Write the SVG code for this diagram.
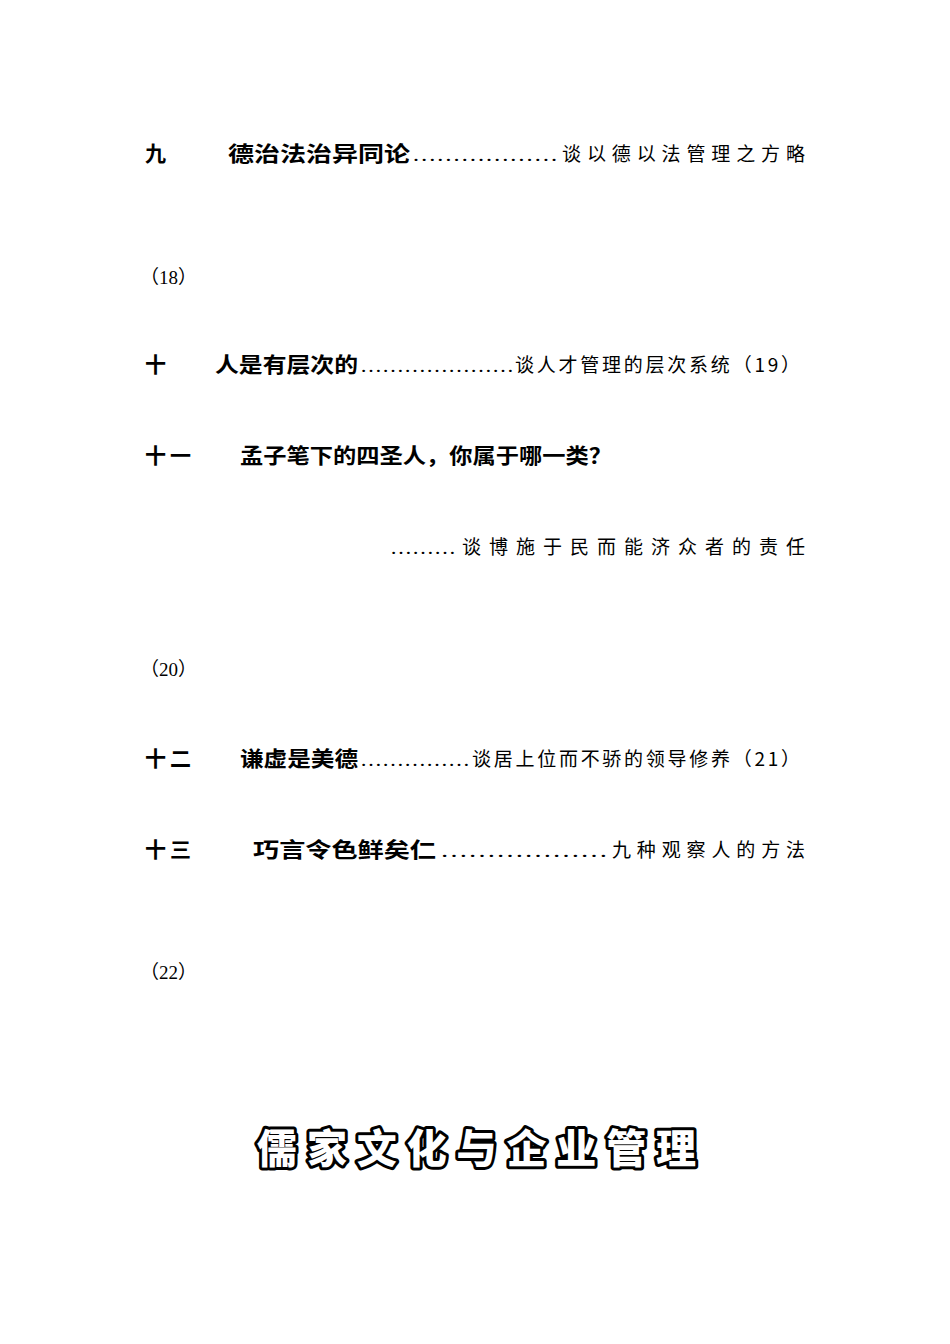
<svg xmlns="http://www.w3.org/2000/svg" width="950" height="1344" viewBox="0 0 950 1344">
<style>
text{font-family:"Noto Sans CJK SC","Liberation Serif",serif;fill:#000}
.n{font-size:21px;font-weight:bold}
.b{font-size:21px;font-weight:bold}
.r{font-size:19px}
.p{font-size:19px;font-family:"Liberation Serif","Noto Sans CJK SC",serif}
.d{font-size:19px;font-family:"Liberation Serif",serif}
.t{font-size:40px;font-weight:900;fill:#fff;stroke:#000;stroke-width:6;paint-order:stroke;stroke-linejoin:round}
</style>
<rect width="950" height="1344" fill="#fff"/>
<g id="item9">
<text class="n" x="145" y="161">九</text>
<text class="b" x="228" y="161" textLength="182" lengthAdjust="spacingAndGlyphs">德治法治异同论</text>
<text class="d" x="412" y="161" textLength="146" lengthAdjust="spacingAndGlyphs">………………</text>
<text class="r" x="562" y="161" textLength="243" lengthAdjust="spacing">谈以德以法管理之方略</text>
<text class="p" x="140" y="284">（18）</text>
</g>
<g id="item10">
<text class="n" x="145" y="372">十</text>
<text class="b" x="215" y="372" textLength="143" lengthAdjust="spacingAndGlyphs">人是有层次的</text>
<text class="d" x="360" y="372" textLength="154" lengthAdjust="spacingAndGlyphs">…………………</text>
<text class="r" x="515" y="372" textLength="285" lengthAdjust="spacing">谈人才管理的层次系统（19）</text>
</g>
<g id="item11">
<text class="n" x="145" y="463" textLength="46" lengthAdjust="spacing">十一</text>
<text class="b" x="240" y="463" textLength="372" lengthAdjust="spacingAndGlyphs">孟子笔下的四圣人，你属于哪一类？</text>
<text class="d" x="390" y="554" textLength="66" lengthAdjust="spacingAndGlyphs">………</text>
<text class="r" x="462" y="554" textLength="343" lengthAdjust="spacing">谈博施于民而能济众者的责任</text>
<text class="p" x="140" y="676">（20）</text>
</g>
<g id="item12">
<text class="n" x="145" y="766" textLength="46" lengthAdjust="spacing">十二</text>
<text class="b" x="240" y="766" textLength="118" lengthAdjust="spacingAndGlyphs">谦虚是美德</text>
<text class="d" x="360" y="766" textLength="110" lengthAdjust="spacingAndGlyphs">……………</text>
<text class="r" x="472" y="766" textLength="328" lengthAdjust="spacing">谈居上位而不骄的领导修养（21）</text>
</g>
<g id="item13">
<text class="n" x="145" y="857" textLength="46" lengthAdjust="spacing">十三</text>
<text class="b" x="253" y="857" textLength="183" lengthAdjust="spacingAndGlyphs">巧言令色鲜矣仁</text>
<text class="d" x="440" y="857" textLength="168" lengthAdjust="spacingAndGlyphs">………………</text>
<text class="r" x="612" y="857" textLength="193" lengthAdjust="spacing">九种观察人的方法</text>
<text class="p" x="140" y="979">（22）</text>
</g>
<g id="title">
<text class="t" x="257" y="1163" textLength="439" lengthAdjust="spacing">儒家文化与企业管理</text>
</g>
</svg>
